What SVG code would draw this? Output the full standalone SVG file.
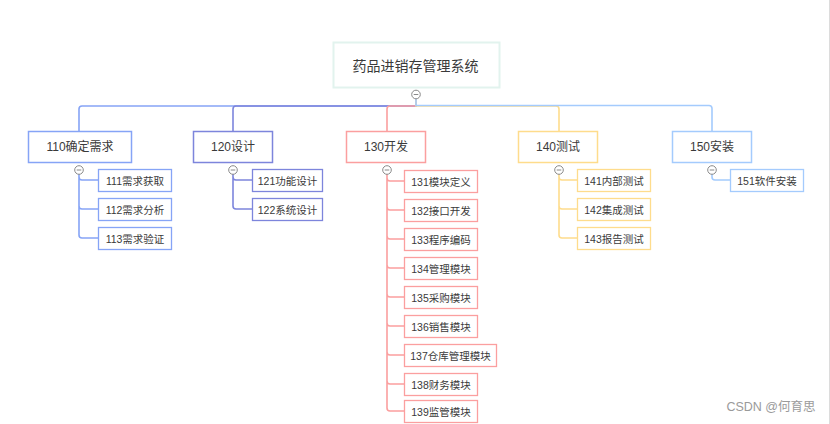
<svg xmlns="http://www.w3.org/2000/svg" width="830" height="424" viewBox="0 0 830 424">
<style>
text{font-family:"Liberation Sans","Noto Sans CJK SC",sans-serif;fill:#3a3a3a;text-anchor:middle;dominant-baseline:central}
.t1{font-size:14px}
.t2{font-size:12px}
.t3{font-size:10.5px}
rect{fill:#fff}
.c{fill:none;stroke-width:1.6}
.b1{stroke:#86a4f6}.b2{stroke:#7d85dc}.b3{stroke:#fb9f9f}.b4{stroke:#fedc8c}.b5{stroke:#a4cbfd}
.tg{fill:#fff;stroke:#8a8a8a;stroke-width:1}
.tm{stroke:#8a8a8a;stroke-width:1}
</style>
<defs>
<g id="tog"><circle class="tg" r="4.3"/><line class="tm" x1="-2.3" y1="0" x2="2.3" y2="0"/></g>
</defs>
<rect x="0" y="0" width="830" height="424" fill="#fff"/>
<line x1="829.5" y1="0" x2="829.5" y2="424" stroke="#dcdcdc" stroke-width="1"/>
<g id="connectors">
<path class="c b1" d="M416,99 V106 H82 Q79,106 79,109 V131"/>
<path class="c b2" d="M416,99 V106 H236 Q233,106 233,109 V131"/>
<path class="c b3" d="M416,99 V106 H390 Q387,106 387,109 V131"/>
<path class="c b4" d="M416,99 V106 H556 Q559,106 559,109 V131"/>
<path class="c b5" d="M416,99 V105.5 H709 Q712,105.5 712,108.5 V131"/>
<path class="c b1" d="M79,174 V177 Q79,180 82,180 H98 M79,177 V206 Q79,209 82,209 H98 M79,206 V235 Q79,238 82,238 H98"/>
<path class="c b2" d="M233,174 V177 Q233,180 236,180 H252 M233,177 V206 Q233,209 236,209 H252"/>
<path class="c b3" d="M387,174 V178 Q387,181 390,181 H404 M387,178 V207 Q387,210 390,210 H404 M387,207 V236 Q387,239 390,239 H404 M387,236 V265 Q387,268 390,268 H404 M387,265 V294 Q387,297 390,297 H404 M387,294 V323 Q387,326 390,326 H404 M387,323 V352 Q387,355 390,355 H404 M387,352 V381 Q387,384 390,384 H404 M387,381 V408 Q387,411 390,411 H404"/>
<path class="c b4" d="M559,174 V177 Q559,180 562,180 H577 M559,177 V206 Q559,209 562,209 H577 M559,206 V235 Q559,238 562,238 H577"/>
<path class="c b5" d="M712,174 V177 Q712,180 715,180 H730"/>
</g>
<g id="root">
<rect x="333.5" y="42.5" width="166" height="45" stroke="#e2f3ee" stroke-width="2"/>
<text class="t1" x="415.5" y="66">药品进销存管理系统</text>
<use href="#tog" x="416" y="94.5"/>
</g>
<g id="n110">
<rect x="28.5" y="131.5" width="103" height="31" stroke="#86a4f6" stroke-width="1.5"/>
<text class="t2" x="80" y="147">110确定需求</text>
<use href="#tog" x="79" y="170"/>
</g>
<g id="n111"><rect x="98.5" y="169.5" width="73" height="22" stroke="#86a4f6" stroke-width="1.3"/><text class="t3" x="135" y="180.5">111需求获取</text></g>
<g id="n112"><rect x="98.5" y="198.5" width="73" height="22" stroke="#86a4f6" stroke-width="1.3"/><text class="t3" x="135" y="209.5">112需求分析</text></g>
<g id="n113"><rect x="98.5" y="227.5" width="73" height="22" stroke="#86a4f6" stroke-width="1.3"/><text class="t3" x="135" y="238.5">113需求验证</text></g>
<g id="n120">
<rect x="193.5" y="131.5" width="79" height="31" stroke="#7d85dc" stroke-width="1.5"/>
<text class="t2" x="233" y="147">120设计</text>
<use href="#tog" x="233" y="170"/>
</g>
<g id="n121"><rect x="252.5" y="169.5" width="70" height="22" stroke="#7d85dc" stroke-width="1.3"/><text class="t3" x="287.5" y="180.5">121功能设计</text></g>
<g id="n122"><rect x="252.5" y="198.5" width="70" height="22" stroke="#7d85dc" stroke-width="1.3"/><text class="t3" x="287.5" y="209.5">122系统设计</text></g>
<g id="n130">
<rect x="346.5" y="131.5" width="79" height="31" stroke="#fb9f9f" stroke-width="1.5"/>
<text class="t2" x="386" y="147">130开发</text>
<use href="#tog" x="387" y="170"/>
</g>
<g id="n131"><rect x="404.5" y="170.5" width="73" height="22" stroke="#fb9f9f" stroke-width="1.3"/><text class="t3" x="441" y="181.5">131模块定义</text></g>
<g id="n132"><rect x="404.5" y="199.5" width="73" height="22" stroke="#fb9f9f" stroke-width="1.3"/><text class="t3" x="441" y="210.5">132接口开发</text></g>
<g id="n133"><rect x="404.5" y="228.5" width="73" height="22" stroke="#fb9f9f" stroke-width="1.3"/><text class="t3" x="441" y="239.5">133程序编码</text></g>
<g id="n134"><rect x="404.5" y="257.5" width="73" height="22" stroke="#fb9f9f" stroke-width="1.3"/><text class="t3" x="441" y="268.5">134管理模块</text></g>
<g id="n135"><rect x="404.5" y="286.5" width="73" height="22" stroke="#fb9f9f" stroke-width="1.3"/><text class="t3" x="441" y="297.5">135采购模块</text></g>
<g id="n136"><rect x="404.5" y="315.5" width="73" height="22" stroke="#fb9f9f" stroke-width="1.3"/><text class="t3" x="441" y="326.5">136销售模块</text></g>
<g id="n137"><rect x="404.5" y="344.5" width="92" height="22" stroke="#fb9f9f" stroke-width="1.3"/><text class="t3" x="450.5" y="355.5">137仓库管理模块</text></g>
<g id="n138"><rect x="404.5" y="373.5" width="73" height="22" stroke="#fb9f9f" stroke-width="1.3"/><text class="t3" x="441" y="384.5">138财务模块</text></g>
<g id="n139"><rect x="404.5" y="400.5" width="73" height="22" stroke="#fb9f9f" stroke-width="1.3"/><text class="t3" x="441" y="411.5">139监管模块</text></g>
<g id="n140">
<rect x="518.5" y="131.5" width="79" height="31" stroke="#fedc8c" stroke-width="1.5"/>
<text class="t2" x="558" y="147">140测试</text>
<use href="#tog" x="559" y="170"/>
</g>
<g id="n141"><rect x="577.5" y="169.5" width="73" height="22" stroke="#fedc8c" stroke-width="1.3"/><text class="t3" x="614" y="180.5">141内部测试</text></g>
<g id="n142"><rect x="577.5" y="198.5" width="73" height="22" stroke="#fedc8c" stroke-width="1.3"/><text class="t3" x="614" y="209.5">142集成测试</text></g>
<g id="n143"><rect x="577.5" y="227.5" width="73" height="22" stroke="#fedc8c" stroke-width="1.3"/><text class="t3" x="614" y="238.5">143报告测试</text></g>
<g id="n150">
<rect x="672.5" y="131.5" width="79" height="31" stroke="#a4cbfd" stroke-width="1.5"/>
<text class="t2" x="712" y="147">150安装</text>
<use href="#tog" x="712" y="170"/>
</g>
<g id="n151"><rect x="730.5" y="169.5" width="73" height="22" stroke="#a4cbfd" stroke-width="1.3"/><text class="t3" x="767" y="180.5">151软件安装</text></g>
<text x="771" y="407" style="font-size:12.5px;fill:#9a9a9a">CSDN @何育思</text>
</svg>
